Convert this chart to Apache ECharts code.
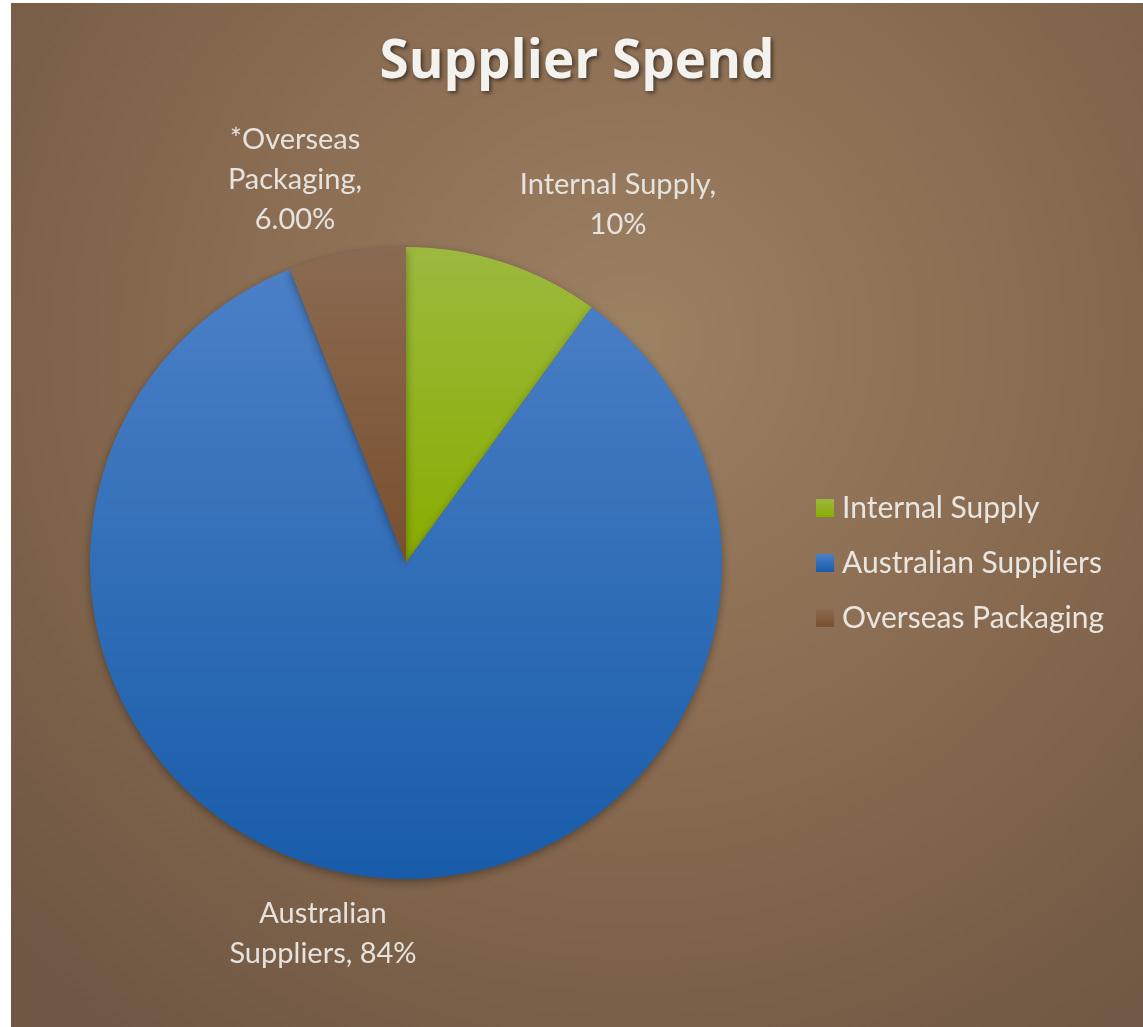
<!DOCTYPE html>
<html>
<head>
<meta charset="utf-8">
<script src="https://cdn.jsdelivr.net/npm/echarts@6/dist/echarts.min.js"></script>
<style>
html,body{margin:0;padding:0;background:#ffffff;width:1143px;height:1027px;overflow:hidden;}
#chart{position:absolute;left:11px;top:3px;width:1132px;height:1024px;}
</style>
</head>
<body>
<div id="chart"></div>
<script>
const categories = ['Internal Supply', 'Australian Suppliers', 'Overseas Packaging'];
const values = [10, 84, 6];
const labelTexts = ['Internal Supply,\n10%', 'Australian\nSuppliers, 84%', '*Overseas\nPackaging,\n6.00%'];
const titleText = 'Supplier Spend';

const sliceColors = [
  ['#9cb93e', '#88ad00'],
  ['#4b80c7', '#185ca9'],
  ['#8a6a52', '#7a502e']
];
const labelPos = [
  {x: 607, y: 202},
  {x: 312, y: 931},
  {x: 284, y: 177}
];

const chart = echarts.init(document.getElementById('chart'));
const font = 'Lato, "Open Sans", sans-serif';

chart.setOption({
  backgroundColor: {
    type: 'radial', x: 0.55, y: 0.33, r: 0.85,
    colorStops: [
      {offset: 0, color: '#9d8163'},
      {offset: 0.55, color: '#86684e'},
      {offset: 1, color: '#6e5743'}
    ]
  },
  title: {
    text: titleText,
    left: 'center',
    top: 28,
    textStyle: {
      fontFamily: '"Open Sans", Lato, sans-serif', fontSize: 53, fontWeight: 'bold', color: '#f4f2ef',
      textShadowColor: 'rgba(0,0,0,0.55)', textShadowBlur: 4,
      textShadowOffsetX: 2, textShadowOffsetY: 2
    }
  },
  legend: {
    orient: 'vertical',
    left: 800,
    top: 485,
    itemWidth: 18,
    itemHeight: 18,
    itemGap: 25,
    icon: 'rect',
    data: categories,
    textStyle: {fontFamily: font, fontSize: 30, color: '#e9e5e1', lineHeight: 30, padding: [0, 0, 0, 3]}
  },
  series: [{
    type: 'pie',
    center: [395, 560],
    radius: 316,
    startAngle: 90,
    clockwise: true,
    animation: false,
    label: {
      show: true,
      position: 'outside',
      formatter: p => labelTexts[p.dataIndex],
      fontFamily: font,
      fontSize: 29,
      lineHeight: 40,
      color: '#e6e2de',
      align: 'center'
    },
    labelLine: {show: false},
    labelLayout: p => ({x: labelPos[p.dataIndex].x, y: labelPos[p.dataIndex].y, align: 'center', verticalAlign: 'middle'}),
    itemStyle: {
      shadowBlur: 10,
      shadowColor: 'rgba(0,0,0,0.35)',
      shadowOffsetY: 3
    },
    emphasis: {disabled: true},
    data: categories.map((c, i) => ({
      name: c,
      value: values[i],
      itemStyle: {
        color: {
          type: 'linear', x: 0, y: 0, x2: 0, y2: 1,
          colorStops: [{offset: 0, color: sliceColors[i][0]}, {offset: 1, color: sliceColors[i][1]}]
        }
      }
    }))
  }]
});
</script>
</body>
</html>
